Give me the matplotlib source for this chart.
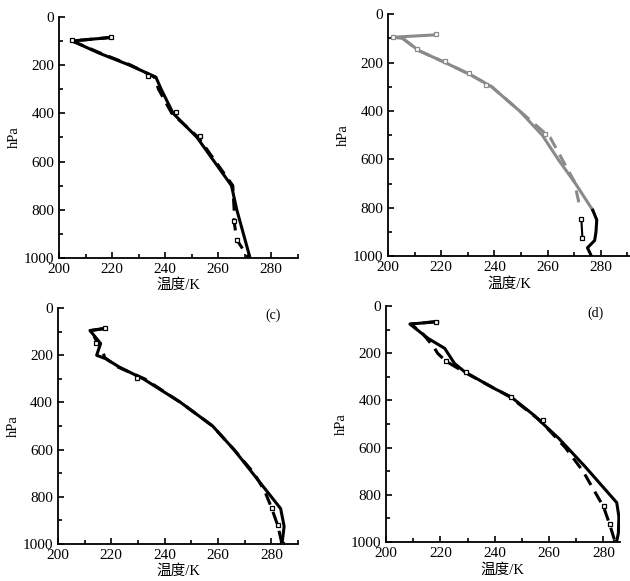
import matplotlib
matplotlib.use("Agg")
import matplotlib.pyplot as plt
from matplotlib.ticker import MultipleLocator

plt.rcParams['font.family'] = ['Liberation Serif', 'Noto Sans CJK SC']

# panel (a)
solid_a_p = [85, 100, 150, 200, 250, 300, 400, 500, 600, 700, 800, 900, 1000]
solid_a_t = [220, 205, 215, 226.5, 236.5, 238.5, 243, 252, 258.5, 265, 267, 269.5, 272]
dash_a_p = [85, 100, 150, 200, 250, 300, 400, 500, 600, 700, 800, 850, 925, 1000]
dash_a_t = [220, 205, 215.5, 227, 236, 237.5, 242.5, 252.5, 259, 265.5, 266, 266, 267, 271.5]
obs_a_p = [83, 95, 246, 395, 494, 845, 925]
obs_a_t = [219.7, 204.7, 233.6, 244.2, 253.3, 265.8, 266.9]

# panel (b): grey above ~810 hPa, black below
solid_b_p = [85, 95, 100, 150, 200, 250, 300, 400, 500, 600, 700, 810]
solid_b_t = [218, 202, 205.5, 211.5, 221.5, 231, 239, 249.5, 258, 264, 270.5, 277]
solid_b_low_p = [810, 850, 900, 935, 965, 1000]
solid_b_low_t = [277, 278.5, 278.2, 277.7, 275, 276.5]
dash_b_p = [100, 150, 200, 250, 300, 400, 510, 600, 690, 790]
dash_b_t = [205.5, 211.5, 221.5, 231, 239, 249.5, 261, 265.5, 270, 272]
obs_b_p = [83, 95, 142, 193, 242, 293, 496]
obs_b_t = [218, 202, 211, 221.4, 230.5, 237, 259.2]
obs_b_low_p = [848, 923]
obs_b_low_t = [272.7, 273.1]

# panel (c)
solid_c_p = [86, 95, 150, 200, 215, 250, 300, 400, 500, 600, 700, 800, 850, 925, 1000]
solid_c_t = [218, 212, 216, 214.5, 218, 223, 232, 246, 258, 266, 273, 280, 283.5, 284.8, 284]
dash_c_p = [86, 95, 130, 190, 210, 250, 300, 400, 500, 600, 700, 775, 850, 925, 1000]
dash_c_t = [217.5, 212.5, 214, 217, 217.5, 222.5, 232.5, 246, 258, 266, 273.5, 277.5, 280.2, 282.5, 284]
obs_c_p = [86, 150, 297, 849, 919, 1000]
obs_c_t = [217.7, 214.2, 229.6, 280.2, 282.5, 284]

# panel (d)
solid_d_p = [66, 76, 137, 179, 243, 278, 349, 384, 462, 483, 561, 681, 833, 893, 963, 1000]
solid_d_t = [219, 208.8, 215.5, 221.6, 225.2, 228.9, 239.8, 245.9, 254.4, 256.3, 263.6, 273.3, 284.9, 285.7, 285.5, 284.8]
dash_d_p = [66, 76, 110, 172, 200, 233, 281, 384, 483, 600, 700, 790, 850, 925, 1000]
dash_d_t = [218, 209, 213, 217.5, 219, 222, 229, 245.5, 256.5, 266, 272.5, 277, 280, 282.3, 284.3]
obs_d_p = [66, 233, 281, 384, 483, 847, 924, 1000]
obs_d_t = [218.5, 222.2, 229.5, 245.9, 257.8, 280.1, 282.3, 284.3]

fig = plt.figure(figsize=(6.3, 5.81), dpi=100)
grey = '#8a8a8a'
dashes = (0, (4, 2.5))


def setup(ax, xmax, label=None):
    ax.set_xlim(200, xmax)
    ax.set_ylim(1000, 0)
    ax.spines['top'].set_visible(False)
    ax.spines['right'].set_visible(False)
    ax.spines['left'].set_linewidth(1.3)
    ax.spines['bottom'].set_linewidth(1.3)
    ax.xaxis.set_major_locator(MultipleLocator(20))
    ax.xaxis.set_minor_locator(MultipleLocator(10))
    ax.yaxis.set_major_locator(MultipleLocator(200))
    ax.yaxis.set_minor_locator(MultipleLocator(100))
    ax.tick_params(which='both', direction='in', labelsize=11, width=1.2)
    ax.tick_params(which='major', length=4)
    ax.tick_params(which='minor', length=3)
    ax.set_xlabel("温度/K", fontsize=10.5, labelpad=2)
    ax.set_ylabel("hPa", fontsize=10.5, labelpad=2)
    if label:
        ax.text(0.93, 1.0, label, transform=ax.transAxes, fontsize=10,
                ha='right', va='top')


def squares(ax, t, p, color='k'):
    ax.plot(t, p, ls='none', marker='s', ms=3.5, mfc='white', mec=color, mew=0.9)


# (a)
ax = fig.add_axes([0.0937, 0.556, 0.379, 0.415])
setup(ax, 290)
ax.plot(dash_a_t, dash_a_p, color='k', lw=2.2, ls=dashes)
ax.plot(solid_a_t, solid_a_p, color='k', lw=2.2)
squares(ax, obs_a_t, obs_a_p)

# (b)
ax = fig.add_axes([0.616, 0.559, 0.384, 0.4165])
setup(ax, 291)
ax.plot(dash_b_t, dash_b_p, color=grey, lw=2.2, ls=dashes)
ax.plot(solid_b_t, solid_b_p, color=grey, lw=2.2)
ax.plot(solid_b_low_t, solid_b_low_p, color='k', lw=2.2)
ax.plot(obs_b_low_t, obs_b_low_p, color='k', lw=1.5)
squares(ax, obs_b_t, obs_b_p, grey)
squares(ax, obs_b_low_t, obs_b_low_p)

# (c)
ax = fig.add_axes([0.092, 0.0637, 0.381, 0.406])
setup(ax, 290, "(c)")
ax.plot(dash_c_t, dash_c_p, color='k', lw=2.2, ls=dashes)
ax.plot(solid_c_t, solid_c_p, color='k', lw=2.2)
squares(ax, obs_c_t, obs_c_p)

# (d)
ax = fig.add_axes([0.6127, 0.0671, 0.371, 0.406])
setup(ax, 286, "(d)")
ax.plot(dash_d_t, dash_d_p, color='k', lw=2.2, ls=dashes)
ax.plot(solid_d_t, solid_d_p, color='k', lw=2.2)
squares(ax, obs_d_t, obs_d_p)

fig.savefig("out.png", dpi=100)
